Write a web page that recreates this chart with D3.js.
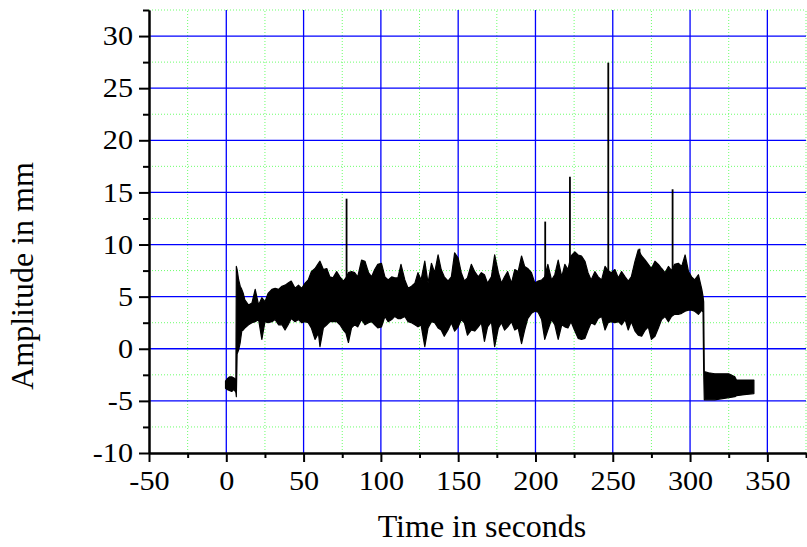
<!DOCTYPE html>
<html>
<head>
<meta charset="utf-8">
<script src="https://cdn.jsdelivr.net/npm/d3@7"></script>
<style>
  body { margin: 0; background: #fff; }
  svg { display: block; }
  text { font-family: "Liberation Serif", "Times New Roman", serif; fill: #000; }
</style>
</head>
<body>
<svg id="chart" width="807" height="547"></svg>
<script>
// envelope of the displacement signal (seconds, mm)
var time = [-0.5, 0.5, 2, 3.5, 5, 6.2, 6.5, 7, 8, 9, 10, 11, 12, 14.4, 16.6, 18.7, 20.9, 23, 25, 27,
  29.5, 31.6, 33.8, 36, 38, 40, 42, 44.5, 46.7, 48.8, 51, 53, 55, 57.4, 59.6, 60.6, 62.8, 65, 67, 69,
  71.4, 73.5, 75.7, 77.4, 79, 81, 83, 85, 87.5, 89.7, 92, 94, 96, 98, 100.4, 102.6, 104.7, 107, 109, 111,
  113, 115.5, 117.6, 119.8, 122, 124, 126, 128.4, 130.5, 132.7, 134.8, 137, 139, 141, 143.4, 145.6, 147.7, 150, 152, 154,
  156, 158.5, 160.7, 163, 165, 167, 169, 171.5, 173.6, 176, 178, 180, 182, 184.5, 186.6, 188.8, 191, 193, 195, 197.4,
  199.6, 201.7, 204, 206, 208, 210.4, 212.5, 214.7, 217, 219, 221, 223, 225.5, 227.6, 229.8, 232, 234, 236, 238.4, 240.6,
  242.8, 245, 247, 249, 251.4, 253.6, 255.7, 258, 260, 262, 264.4, 266.5, 268.7, 271, 273, 275, 277.3, 279.5, 281.6, 283.8,
  286, 288, 290, 292.4, 294.6, 296.8, 299, 301, 303, 305.4, 307.6, 308.4, 308.8, 309.2, 312, 316, 320, 325, 329, 330,
  335, 341.3];
var upper = [-3.1, -2.9, -2.7, -2.7, -2.8, -3.0, 7.9, 7.6, 6.6, 6.0, 5.7, 5.3, 4.7, 4.2, 4.4, 5.7, 4.2, 4.9, 4.5, 5.3,
  5.7, 5.8, 5.7, 6.0, 6.1, 6.3, 6.5, 5.8, 6.1, 5.8, 6.3, 6.6, 7.4, 7.7, 8.2, 8.4, 7.6, 7.7, 6.9, 6.8,
  7.4, 6.9, 6.5, 6.8, 7.3, 7.4, 7.3, 6.9, 8.5, 8.4, 7.3, 6.9, 7.6, 8.1, 8.2, 6.9, 6.6, 6.9, 6.8, 6.8,
  8.1, 6.6, 5.8, 6.0, 6.3, 7.3, 6.6, 8.4, 6.3, 8.2, 7.3, 9.0, 7.6, 6.9, 6.5, 6.9, 9.2, 8.7, 7.3, 6.5,
  6.8, 8.1, 7.4, 6.9, 7.3, 7.1, 6.3, 6.9, 9.0, 7.3, 6.3, 6.9, 7.4, 6.3, 7.6, 7.4, 8.9, 7.9, 7.7, 7.3,
  6.3, 6.5, 6.6, 6.9, 8.1, 6.6, 7.1, 8.5, 6.9, 8.1, 7.6, 8.9, 9.3, 9.0, 8.9, 8.4, 7.3, 6.6, 7.4, 6.9,
  6.6, 7.9, 7.5, 7.3, 7.6, 6.8, 7.4, 6.9, 6.5, 6.9, 8.4, 9.5, 8.9, 8.5, 8.1, 7.7, 8.4, 8.1, 7.7, 7.3,
  7.9, 7.5, 8.1, 8.2, 7.9, 9.0, 7.4, 6.9, 6.6, 7.1, 5.7, 5.0, 4.5, -2.2, -2.3, -2.4, -2.4, -2.4, -2.7, -3.0,
  -3.0, -3.0];
var lower = [-3.8, -3.9, -4.0, -4.1, -3.9, -4.2, -4.6, -0.5, -0.1, 0.6, 1.7, 1.8, 2.0, 2.3, 2.5, 2.6, 2.8, 0.9, 2.6, 2.5,
  2.6, 2.8, 2.3, 2.3, 1.8, 2.3, 2.9, 2.6, 2.8, 2.5, 2.6, 2.5, 2.0, 0.9, 1.5, 0.2, 2.0, 2.3, 2.6, 2.6,
  2.6, 2.3, 1.8, 1.5, 0.6, 2.0, 2.3, 2.1, 2.8, 2.3, 2.5, 2.6, 2.3, 2.0, 2.1, 3.1, 2.6, 2.8, 3.1, 2.9,
  2.9, 3.1, 2.6, 2.5, 2.3, 2.1, 2.3, 0.2, 2.0, 2.6, 2.5, 2.0, 1.8, 1.2, 1.8, 2.5, 1.7, 2.1, 2.8, 2.5,
  1.3, 1.8, 1.7, 2.1, 2.5, 0.7, 2.1, 2.6, 0.2, 2.0, 2.5, 1.8, 2.1, 2.6, 1.8, 2.0, 0.5, 1.8, 2.9, 3.4,
  3.6, 3.5, 2.8, 0.9, 1.8, 2.8, 2.3, 0.9, 2.3, 2.1, 2.0, 2.6, 1.7, 1.0, 0.9, 1.0, 1.8, 2.5, 2.3, 2.9,
  3.1, 1.8, 2.5, 2.6, 2.5, 2.6, 2.3, 2.8, 1.8, 2.6, 1.7, 1.3, 1.2, 1.8, 2.1, 0.9, 1.2, 2.0, 2.8, 3.1,
  2.6, 3.1, 3.3, 3.3, 3.4, 3.6, 3.7, 3.7, 3.6, 3.3, 3.7, 3.5, -2.0, -4.9, -4.9, -4.9, -4.8, -4.7, -4.6, -4.5,
  -4.4, -4.3];

// isolated narrow spikes
var spikeTime = [77.8, 206.3, 222.3, 247.1, 267.3, 288.7];
var spikePeak = [14.4, 12.2, 16.5, 27.45, 9.6, 15.3];

var xTicks = [-50, 0, 50, 100, 150, 200, 250, 300, 350];
var xMinor = [-25, 25, 75, 125, 175, 225, 275, 325, 375];
var yTicks = [-10, -5, 0, 5, 10, 15, 20, 25, 30];
var yMinor = [-7.5, -2.5, 2.5, 7.5, 12.5, 17.5, 22.5, 27.5, 32.5];

var svg = d3.select("#chart");
var x = d3.scaleLinear().domain([-50, 375]).range([149, 806]);
var y = d3.scaleLinear().domain([-10, 32.5]).range([453, 10]);

// minor grid
var grid = svg.append("g");
grid.selectAll(".gxm").data(xMinor).enter().append("line")
    .attr("x1", function (d) { return x(d); }).attr("x2", function (d) { return x(d); })
    .attr("y1", y(-10)).attr("y2", y(32.5))
    .attr("stroke", "#6cff6c").attr("stroke-width", 1).attr("stroke-dasharray", "1,2");
grid.selectAll(".gym").data(yMinor).enter().append("line")
    .attr("x1", x(-50)).attr("x2", x(375))
    .attr("y1", function (d) { return y(d); }).attr("y2", function (d) { return y(d); })
    .attr("stroke", "#6cff6c").attr("stroke-width", 1).attr("stroke-dasharray", "1,2");
// major grid
grid.selectAll(".gx").data(xTicks.slice(1)).enter().append("line")
    .attr("x1", function (d) { return x(d); }).attr("x2", function (d) { return x(d); })
    .attr("y1", y(-10)).attr("y2", y(32.5))
    .attr("stroke", "#0000ff").attr("stroke-width", 1.3);
grid.selectAll(".gy").data(yTicks.slice(1)).enter().append("line")
    .attr("x1", x(-50)).attr("x2", x(375))
    .attr("y1", function (d) { return y(d); }).attr("y2", function (d) { return y(d); })
    .attr("stroke", "#0000ff").attr("stroke-width", 1.3);

// signal envelope
var pts = time.map(function (t, i) { return { t: t, hi: upper[i], lo: lower[i] }; });
var area = d3.area()
    .x(function (d) { return x(d.t); })
    .y0(function (d) { return y(d.lo); })
    .y1(function (d) { return y(d.hi); });
svg.append("path").datum(pts).attr("d", area)
    .attr("fill", "#000").attr("stroke", "#000").attr("stroke-width", 1.2).attr("stroke-linejoin", "round");

svg.append("g").selectAll("line").data(spikeTime).enter().append("line")
    .attr("x1", function (d) { return x(d); }).attr("x2", function (d) { return x(d); })
    .attr("y1", y(5)).attr("y2", function (d, i) { return y(spikePeak[i]); })
    .attr("stroke", "#000").attr("stroke-width", 1.8);

// axes
var stretch = 1.12;
function styleAxis(g) {
    g.select(".domain").attr("stroke", "#000").attr("stroke-width", 2);
    g.selectAll(".tick line").attr("stroke", "#000").attr("stroke-width", 2);
    g.selectAll("text").attr("font-family", "Liberation Serif, serif").attr("font-size", 27).attr("fill", "#000");
}
var fmt = function (d) { return String(d); };
svg.append("g").attr("transform", "translate(0,453)")
    .call(d3.axisBottom(x).tickValues(xMinor).tickSize(5).tickFormat("").tickSizeOuter(0))
    .call(styleAxis);
svg.append("g").attr("transform", "translate(0,453)")
    .call(d3.axisBottom(x).tickValues(xTicks).tickSize(9).tickFormat(fmt).tickSizeOuter(0))
    .call(styleAxis)
    .selectAll("text").attr("dy", null).attr("y", 37)
    .attr("transform", "scale(" + stretch + ",1)");
svg.append("g").attr("transform", "translate(149,0)")
    .call(d3.axisLeft(y).tickValues(yMinor).tickSize(6).tickFormat("").tickSizeOuter(0))
    .call(styleAxis);
svg.append("g").attr("transform", "translate(149,0)")
    .call(d3.axisLeft(y).tickValues(yTicks).tickSize(10).tickFormat(fmt).tickSizeOuter(0))
    .call(styleAxis)
    .selectAll("text").attr("x", -16 / stretch)
    .attr("transform", "scale(" + stretch + ",1)");

// titles
svg.append("text").attr("x", 482).attr("y", 537).attr("text-anchor", "middle")
    .attr("font-size", 32).text("Time in seconds");
svg.append("text").attr("transform", "translate(33,276) rotate(-90)").attr("text-anchor", "middle")
    .attr("font-size", 32).text("Amplitude in mm");
</script>
</body>
</html>
